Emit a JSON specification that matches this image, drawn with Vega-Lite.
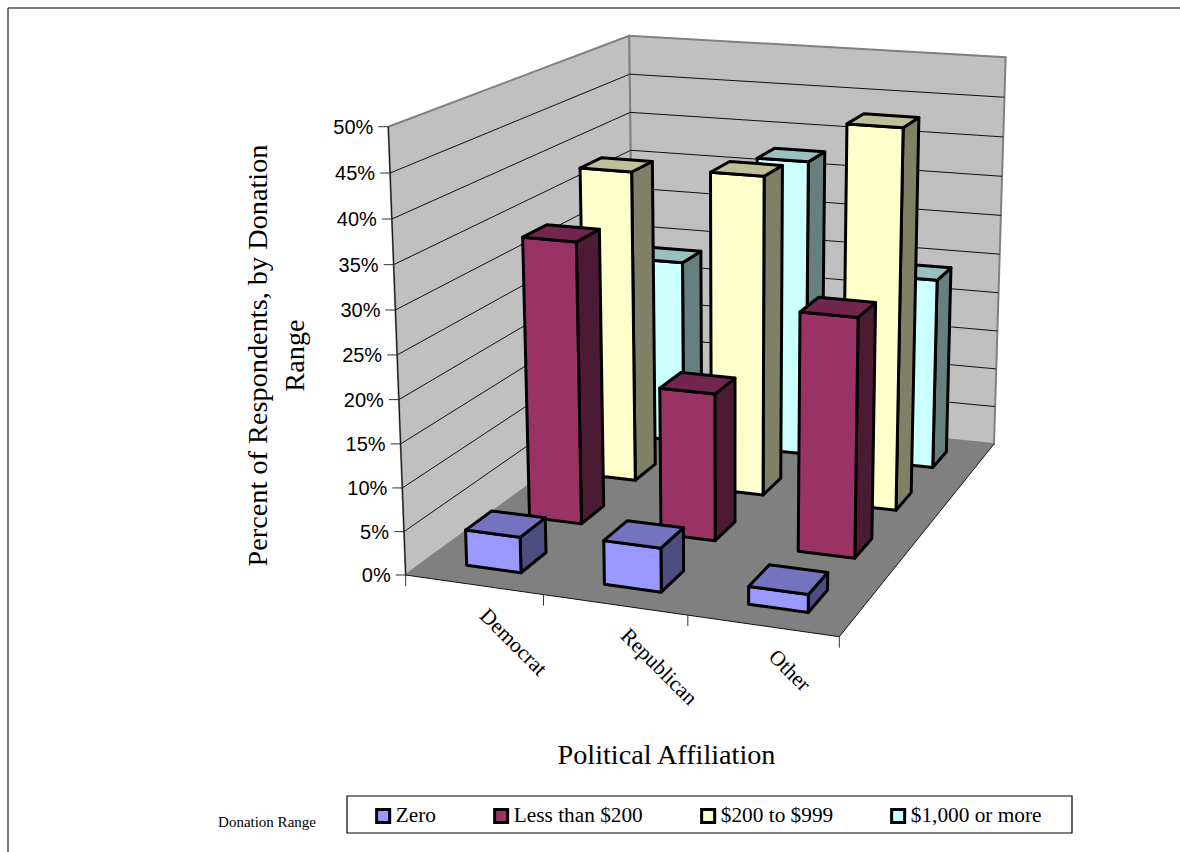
{
  "$schema": "https://vega.github.io/schema/vega-lite/v6.json",
  "width": 1180,
  "height": 852,
  "padding": 0,
  "autosize": {"type": "none"},
  "background": "white",
  "view": {"stroke": null},
  "config": {"font": "Liberation Serif"},
  "data": {
    "values": [
      {"kind": "frame", "part": "left", "corners": [[0,0,0],[0,1,0],[0,1,50],[0,0,50]]},
      {"kind": "frame", "part": "back", "corners": [[0,1,0],[1,1,0],[1,1,50],[0,1,50]]},
      {"kind": "frame", "part": "floor", "corners": [[0,0,0],[1,0,0],[1,1,0],[0,1,0]]},
      {"kind": "frame", "part": "axis", "corners": [[0,0,0],[0,0,50]]},
      {"kind": "frame", "part": "frontEdge", "corners": [[0,0,0],[1,0,0]]},
      {"kind": "frame", "part": "rightEdge", "corners": [[1,0,0],[1,1,0]]},
      {"kind": "note", "part": "caption", "note": "Donation Range", "corners": [[0,0,0]]},
      {"kind": "level", "pct": 0},
      {"kind": "level", "pct": 5},
      {"kind": "level", "pct": 10},
      {"kind": "level", "pct": 15},
      {"kind": "level", "pct": 20},
      {"kind": "level", "pct": 25},
      {"kind": "level", "pct": 30},
      {"kind": "level", "pct": 35},
      {"kind": "level", "pct": 40},
      {"kind": "level", "pct": 45},
      {"kind": "level", "pct": 50},
      {"kind": "tick", "pos": 0},
      {"kind": "tick", "pos": 1},
      {"kind": "tick", "pos": 2},
      {"kind": "tick", "pos": 3},
      {"kind": "party", "party": "Democrat"},
      {"kind": "party", "party": "Republican"},
      {"kind": "party", "party": "Other"},
      {"kind": "bar", "party": "Democrat", "range": "$1,000 or more", "pct": 23.5},
      {"kind": "bar", "party": "Republican", "range": "$1,000 or more", "pct": 37.6},
      {"kind": "bar", "party": "Other", "range": "$1,000 or more", "pct": 24},
      {"kind": "bar", "party": "Democrat", "range": "$200 to $999", "pct": 38.4},
      {"kind": "bar", "party": "Republican", "range": "$200 to $999", "pct": 39.1},
      {"kind": "bar", "party": "Other", "range": "$200 to $999", "pct": 46},
      {"kind": "bar", "party": "Democrat", "range": "Less than $200", "pct": 33.6},
      {"kind": "bar", "party": "Republican", "range": "Less than $200", "pct": 17.4},
      {"kind": "bar", "party": "Other", "range": "Less than $200", "pct": 27.9},
      {"kind": "bar", "party": "Democrat", "range": "Zero", "pct": 4.1},
      {"kind": "bar", "party": "Republican", "range": "Zero", "pct": 5},
      {"kind": "bar", "party": "Other", "range": "Zero", "pct": 2}
    ]
  },
  "params": [
    {"name": "parties", "value": ["Democrat", "Republican", "Other"]},
    {"name": "ranges", "value": ["Zero", "Less than $200", "$200 to $999", "$1,000 or more"]}
  ],
  "transform": [
    {"calculate": "datum.kind === 'bar' ? ['side', 'front', 'top'] : [datum.kind]", "as": "faces"},
    {"flatten": ["faces"], "as": ["face"]},
    {"calculate": "(indexof(parties, datum.party) + 0.5) / 3 - 0.0667", "as": "u0"},
    {"calculate": "datum.u0 + 0.1333", "as": "u1"},
    {"calculate": "(indexof(ranges, datum.range) + 0.5) / 4 - 0.05", "as": "v0"},
    {"calculate": "datum.v0 + 0.1", "as": "v1"},
    {"calculate": "datum.kind === 'bar' ? (datum.face === 'side' ? [[datum.u1,datum.v0,0],[datum.u1,datum.v1,0],[datum.u1,datum.v1,datum.pct],[datum.u1,datum.v0,datum.pct]] : datum.face === 'front' ? [[datum.u0,datum.v0,0],[datum.u1,datum.v0,0],[datum.u1,datum.v0,datum.pct],[datum.u0,datum.v0,datum.pct]] : [[datum.u0,datum.v0,datum.pct],[datum.u1,datum.v0,datum.pct],[datum.u1,datum.v1,datum.pct],[datum.u0,datum.v1,datum.pct]]) : datum.kind === 'level' ? [[0,0,datum.pct],[0,1,datum.pct],[1,1,datum.pct]] : datum.kind === 'tick' ? [[datum.pos / 3,0,0]] : datum.kind === 'party' ? [[(indexof(parties, datum.party) + 0.5) / 3,0,0]] : datum.corners", "as": "verts"},
    {"calculate": "datum.kind === 'bar' ? datum.party + '/' + datum.range + '/' + datum.face : datum.kind + '/' + (datum.part || datum.pct || datum.pos || datum.party || 0)", "as": "shape"},
    {"calculate": "datum.range + '|' + datum.face", "as": "paint"},
    {"flatten": ["verts"], "as": ["corner"]},
    {"window": [{"op": "row_number", "as": "i"}], "groupby": ["shape"]},
    {"calculate": "datum.corner[0] + 0.021 * datum.corner[0] * (1 - datum.corner[0])", "as": "u"},
    {"calculate": "datum.corner[1]", "as": "v"},
    {"calculate": "datum.corner[2] / 50", "as": "z"},
    {"calculate": "datum.z * 0.964 / (1 - 0.036 * datum.z)", "as": "t"},
    {"calculate": "1 - 0.0881 * datum.u + 0.2423 * datum.v", "as": "wF"},
    {"calculate": "1 - 0.0878 * datum.u + 0.2508 * datum.v", "as": "wT"},
    {"calculate": "(1 - datum.t) * (359.66 * datum.u + 381.9 * datum.v + 405.7) / datum.wF + datum.t * (382.5 * datum.u + 398.8 * datum.v + 388.3) / datum.wT", "as": "sx"},
    {"calculate": "(1 - datum.t) * (5.61 * datum.u - 68.14 * datum.v + 575) / datum.wF + datum.t * (21.99 * datum.u - 82.05 * datum.v + 126.7) / datum.wT", "as": "sy"}
  ],
  "encoding": {
    "x": {
      "field": "sx",
      "type": "quantitative",
      "scale": {"domain": [0, 1180], "nice": false, "zero": false},
      "axis": {
        "title": "Political Affiliation",
        "titleFont": "Liberation Serif",
        "titleFontSize": 28.2,
        "titleFontWeight": "normal",
        "titleColor": "#000",
        "titleX": 666,
        "titleY": -111,
        "labels": false,
        "ticks": false,
        "domain": false,
        "grid": false
      }
    },
    "y": {
      "field": "sy",
      "type": "quantitative",
      "scale": {"domain": [852, 0], "nice": false, "zero": false},
      "axis": {
        "title": ["Percent of Respondents, by Donation", "Range"],
        "titleFont": "Liberation Serif",
        "titleFontSize": 28.3,
        "titleFontWeight": "normal",
        "titleColor": "#000",
        "titleLineHeight": 37,
        "titleAngle": -90,
        "titleX": 272,
        "titleY": 355,
        "labels": false,
        "ticks": false,
        "domain": false,
        "grid": false
      }
    }
  },
  "layer": [
    {
      "transform": [{"filter": "datum.kind === 'note'"}],
      "mark": {"type": "rule", "stroke": "#555", "strokeWidth": 1.5},
      "encoding": {
        "x": {"datum": 8},
        "x2": {"datum": 1180},
        "y": {"datum": 8}
      }
    },
    {
      "transform": [{"filter": "datum.kind === 'note'"}],
      "mark": {"type": "rule", "stroke": "#222", "strokeWidth": 1.2},
      "encoding": {
        "x": {"datum": 8},
        "y": {"datum": 8},
        "y2": {"datum": 852}
      }
    },
    {
      "transform": [{"filter": "datum.part === 'left' || datum.part === 'back'"}],
      "mark": {"type": "line", "interpolate": "linear-closed", "fill": "#C0C0C0", "stroke": "#808080", "strokeWidth": 2},
      "encoding": {"detail": {"field": "shape"}, "order": {"field": "i"}}
    },
    {
      "transform": [{"filter": "datum.kind === 'level' && datum.pct > 0 && datum.pct < 50"}],
      "mark": {"type": "line", "stroke": "#111", "strokeWidth": 1},
      "encoding": {"detail": {"field": "shape"}, "order": {"field": "i"}}
    },
    {
      "transform": [{"filter": "datum.part === 'floor'"}],
      "mark": {"type": "line", "interpolate": "linear-closed", "fill": "#808080", "stroke": null},
      "encoding": {"order": {"field": "i"}}
    },
    {
      "transform": [{"filter": "datum.part === 'axis' || datum.part === 'frontEdge' || datum.part === 'rightEdge'"}],
      "mark": {"type": "line", "stroke": "#111", "strokeWidth": 1},
      "encoding": {"detail": {"field": "shape"}, "order": {"field": "i"}}
    },
    {
      "transform": [{"filter": "datum.kind === 'level' && datum.i === 1"}],
      "mark": {"type": "rule", "stroke": "#333", "strokeWidth": 1, "x2Offset": -10},
      "encoding": {"x2": {"field": "sx"}}
    },
    {
      "transform": [{"filter": "datum.kind === 'tick'"}],
      "mark": {"type": "rule", "stroke": "#333", "strokeWidth": 1, "y2Offset": 11},
      "encoding": {"y2": {"field": "sy"}}
    },
    {
      "transform": [
        {"filter": "datum.kind === 'level' && datum.i === 1"},
        {"calculate": "datum.pct + '%'", "as": "label"}
      ],
      "mark": {"type": "text", "font": "Liberation Sans", "fontSize": 20, "align": "right", "baseline": "middle", "xOffset": -15, "yOffset": 1, "fill": "#000"},
      "encoding": {"text": {"field": "label"}}
    },
    {
      "transform": [{"filter": "datum.kind === 'party'"}],
      "mark": {"type": "text", "font": "Liberation Serif", "fontSize": 21.5, "align": "left", "baseline": "middle", "angle": 45, "xOffset": 9, "yOffset": 28, "fill": "#000"},
      "encoding": {"text": {"field": "party"}}
    },
    {
      "transform": [{"filter": "datum.kind === 'bar'"}],
      "mark": {"type": "line", "interpolate": "linear-closed", "stroke": "#000", "strokeWidth": 3, "strokeJoin": "round"},
      "encoding": {
        "detail": {"field": "shape"},
        "order": {"field": "i"},
        "fill": {
          "field": "paint",
          "type": "nominal",
          "scale": {
            "domain": ["Zero|front", "Zero|top", "Zero|side", "Less than $200|front", "Less than $200|top", "Less than $200|side", "$200 to $999|front", "$200 to $999|top", "$200 to $999|side", "$1,000 or more|front", "$1,000 or more|top", "$1,000 or more|side"],
            "range": ["#9999FF", "#7373BF", "#4D4D80", "#993366", "#73264D", "#4D1A33", "#FFFFCC", "#BFBF99", "#808066", "#CCFFFF", "#99BFBF", "#668080"]
          },
          "legend": {
            "values": ["Zero|front", "Less than $200|front", "$200 to $999|front", "$1,000 or more|front"],
            "labelExpr": "split(datum.label, '|')[0]",
            "title": null,
            "orient": "none",
            "legendX": 372.5,
            "legendY": 805,
            "direction": "horizontal",
            "columns": 4,
            "columnPadding": 52,
            "symbolType": "square",
            "symbolSize": 170,
            "symbolStrokeColor": "#000",
            "symbolStrokeWidth": 3,
            "labelFont": "Liberation Serif",
            "labelFontSize": 21.3,
            "labelColor": "#000",
            "labelOffset": 2,
            "padding": 0
          }
        }
      }
    },
    {
      "transform": [{"filter": "datum.kind === 'note'"}],
      "mark": {"type": "rect", "fill": null, "stroke": "#000", "strokeWidth": 1.2},
      "encoding": {
        "x": {"datum": 347},
        "x2": {"datum": 1072},
        "y": {"datum": 796},
        "y2": {"datum": 833}
      }
    },
    {
      "transform": [{"filter": "datum.kind === 'note'"}],
      "mark": {"type": "text", "font": "Liberation Serif", "fontSize": 15, "align": "center", "baseline": "middle", "fill": "#000"},
      "encoding": {
        "x": {"datum": 267},
        "y": {"datum": 822},
        "text": {"field": "note"}
      }
    }
  ]
}
